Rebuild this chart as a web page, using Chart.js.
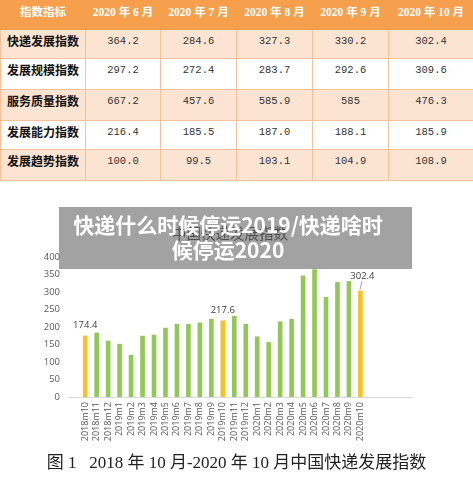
<!DOCTYPE html>
<html>
<head>
<meta charset="utf-8">
<script src="https://cdn.jsdelivr.net/npm/chart.js@4"></script>
<style>
  html, body { margin: 0; padding: 0; background: #fff; }
  body { width: 473px; height: 478px; position: relative; overflow: hidden; }
  #tbl {
    position: absolute; left: 0; top: 0; width: 473px;
    border-collapse: collapse; table-layout: fixed;
    font-family: "Noto Sans CJK SC", sans-serif;
  }
  #tbl td, #tbl th {
    border: 1px solid #f4c19a; padding: 3px 0 0 0; vertical-align: top;
    text-align: center; line-height: 16px; box-sizing: border-box;
  }
  #tbl th { background: #f6a04d; color: #fff; font-size: 11.5px; font-weight: bold;
    font-family: "Liberation Serif", "Noto Sans CJK SC", serif; height: 29px; border-color: #f6a04d; }
  #tbl td { font-family: "Liberation Mono", monospace; font-size: 10.5px; color: #333; }
  #tbl td.name { font-family: "Noto Sans CJK SC", sans-serif; font-weight: bold; font-size: 12px; color: #111; }
  #tbl tr.odd td { background: #fce4d2; }
  #tbl tr.even td { background: #fff; }
  #wrap { position: absolute; left: 0; top: 200px; width: 473px; height: 260px; }
  #title { position: absolute; left: 130px; width: 200px; top: 224px; text-align: center;
    font-family: "Noto Sans CJK SC", sans-serif; font-size: 14.5px; color: #333; line-height: 18px; }
  #banner { position: absolute; left: 59px; top: 207px; width: 353px; height: 62px;
    background: rgba(100,100,100,0.6); }
  #banner div { position: absolute; left: -10px; width: 358px; top: 5px; text-align: center;
    color: #fff; font-family: "Noto Sans CJK SC", sans-serif; font-weight: bold; font-size: 21px; line-height: 25px; }
  #caption { position: absolute; left: 0; width: 473px; top: 453px; text-align: center;
    font-family: "Liberation Serif", "Noto Sans CJK SC", serif; font-size: 17px; color: #222; line-height: 20px; }
</style>
</head>
<body>
<table id="tbl"></table>
<div id="wrap"><canvas id="chart"></canvas></div>
<div id="title">中国快递发展指数</div>
<div id="banner"><div>快递什么时候停运2019/快递啥时<br>候停运2020</div></div>
<div id="caption">图 1&nbsp;&nbsp;&nbsp;2018 年 10 月-2020 年 10 月中国快递发展指数</div>
<script>
// table data
const tableHead = ['指数指标', '2020 年 6 月', '2020 年 7 月', '2020 年 8 月', '2020 年 9 月', '2020 年 10 月'];
const tableNames = ['快递发展指数', '发展规模指数', '服务质量指数', '发展能力指数', '发展趋势指数'];
const tableValues = [
  ['364.2', '284.6', '327.3', '330.2', '302.4'],
  ['297.2', '272.4', '283.7', '292.6', '309.6'],
  ['667.2', '457.6', '585.9', '585', '476.3'],
  ['216.4', '185.5', '187.0', '188.1', '185.9'],
  ['100.0', '99.5', '103.1', '104.9', '108.9']
];

// chart data
const months = ['2018m10', '2018m11', '2018m12', '2019m1', '2019m2', '2019m3', '2019m4', '2019m5',
  '2019m6', '2019m7', '2019m8', '2019m9', '2019m10', '2019m11', '2019m12', '2020m1', '2020m2',
  '2020m3', '2020m4', '2020m5', '2020m6', '2020m7', '2020m8', '2020m9', '2020m10'];
const indexValues = [174.4, 183, 160, 151, 119, 174, 177, 197, 208, 208, 212, 222, 217.6, 231, 208,
  172, 156, 215, 222, 346, 364.2, 284.6, 327.3, 330.2, 302.4];
const labelled = ['2018m10', '2019m10', '2020m10'];
const yTicks = [0, 50, 100, 150, 200, 250, 300, 350, 400];

// build table
const colW = [85, 75, 76, 76, 76, 85];
const rowH = [29, 31, 31, 29, 31];
const tbl = document.getElementById('tbl');
let html = '<colgroup>' + colW.map(w => '<col style="width:' + w + 'px">').join('') + '</colgroup>';
html += '<tr>' + tableHead.map(h => '<th>' + h + '</th>').join('') + '</tr>';
tableNames.forEach((n, r) => {
  html += '<tr class="' + (r % 2 ? 'even' : 'odd') + '" style="height:' + rowH[r] + 'px"><td class="name">' + n + '</td>' +
    tableValues[r].map(v => '<td>' + v + '</td>').join('') + '</tr>';
});
tbl.innerHTML = html;

// chart: one empty slot before, four after, like the original plot area
const labels = [''].concat(months, ['', '', '', '']);
const data = [null].concat(indexValues, [null, null, null, null]);
const colors = labels.map(l => labelled.includes(l) ? '#f7c025' : '#92c857');

const barLabels = {
  id: 'barLabels',
  afterDatasetsDraw(chart) {
    const ctx = chart.ctx;
    const meta = chart.getDatasetMeta(0);
    ctx.save();
    ctx.font = '9.5px "Open Sans"';
    ctx.fillStyle = '#404040';
    ctx.textAlign = 'center';
    ctx.textBaseline = 'middle';
    labelled.forEach((m, k) => {
      const i = labels.indexOf(m);
      const bar = meta.data[i];
      const txt = data[i].toFixed(1);
      if (k === labelled.length - 1) {
        ctx.fillText(txt, bar.x + 2, bar.y - 15);
        ctx.strokeStyle = '#a6a6a6';
        ctx.lineWidth = 1;
        ctx.beginPath();
        ctx.moveTo(bar.x + 1.5, bar.y - 10);
        ctx.lineTo(bar.x - 0.5, bar.y - 1);
        ctx.stroke();
      } else {
        ctx.fillText(txt, bar.x, bar.y - 11);
      }
    });
    ctx.restore();
  }
};

new Chart(document.getElementById('chart'), {
  type: 'bar',
  data: {
    labels: labels,
    datasets: [{
      data: data,
      backgroundColor: colors,
      barThickness: 4
    }]
  },
  options: {
    responsive: true,
    maintainAspectRatio: false,
    animation: false,
    layout: { padding: { left: 40, right: 61, top: 57, bottom: 13 } },
    plugins: { legend: { display: false }, tooltip: { enabled: false }, title: { display: false } },
    scales: {
      x: {
        grid: { display: false, drawTicks: false },
        border: { display: true, color: '#d9d9d9', width: 1 },
        ticks: {
          autoSkip: false, maxRotation: 90, minRotation: 90, padding: 5,
          color: '#595959', font: { family: 'Open Sans', size: 9 }
        },
        afterFit(scale) { scale.height = 50; }
      },
      y: {
        min: 0, max: 400,
        grid: { display: false, drawTicks: false },
        border: { display: false },
        ticks: {
          stepSize: 50, padding: 8, color: '#595959', font: { family: 'Open Sans', size: 9.5 },
          callback: (v) => yTicks.includes(v) ? v : ''
        },
        afterFit(scale) { scale.width = 28; }
      }
    }
  },
  plugins: [barLabels]
});
</script>
</body>
</html>
